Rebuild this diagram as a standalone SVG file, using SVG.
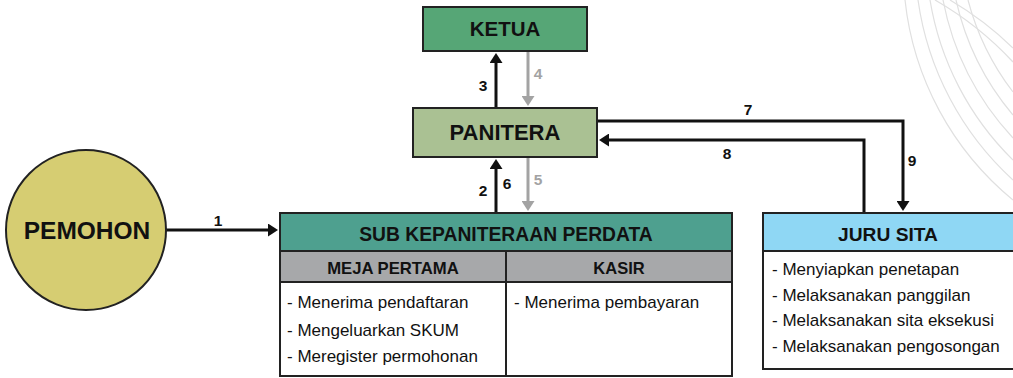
<svg xmlns="http://www.w3.org/2000/svg" width="1013" height="378" viewBox="0 0 1013 378">
  <defs>
    <style>
      .box { stroke: #222; stroke-width: 2; }
      .title { font-family: "Liberation Sans", Arial, sans-serif; font-weight: bold; fill: #111; text-anchor: middle; }
      .item { font-family: "Liberation Sans", Arial, sans-serif; font-size: 17px; fill: #111; }
      .num { font-family: "Liberation Sans", Arial, sans-serif; font-weight: bold; font-size: 15.5px; text-anchor: middle; }
      .blk { stroke: #111; stroke-width: 3; fill: none; }
      .gry { stroke: #a3a3a3; stroke-width: 3; fill: none; }
      .deco { stroke: #e0e0e0; stroke-width: 1.2; fill: none; }
    </style>
    <marker id="headBlack" viewBox="0 0 10 13" markerUnits="userSpaceOnUse" markerWidth="10" markerHeight="13" refX="1" refY="6.5" orient="auto">
      <path d="M0,0 L10,6.5 L0,13 z" fill="#111"/>
    </marker>
    <marker id="headGray" viewBox="0 0 10 13" markerUnits="userSpaceOnUse" markerWidth="10" markerHeight="13" refX="1" refY="6.5" orient="auto">
      <path d="M0,0 L10,6.5 L0,13 z" fill="#a3a3a3"/>
    </marker>
  </defs>

  <rect width="1013" height="378" fill="#ffffff"/>

  <!-- faint decorative arcs, top right corner -->
  <g id="decoration">
    <path class="deco" d="M905,0 A300,300 0 0 0 1013,200"/>
    <path class="deco" d="M918,0 A300,300 0 0 0 1013,180"/>
    <path class="deco" d="M930,0 A290,290 0 0 0 1013,160"/>
    <path class="deco" d="M943,0 A280,280 0 0 0 1013,138"/>
    <path class="deco" d="M956,0 A270,270 0 0 0 1013,115"/>
    <path class="deco" d="M968,0 A260,260 0 0 0 1013,92"/>
    <path class="deco" d="M935,0 A330,330 0 0 1 1013,62"/>
    <path class="deco" d="M950,0 A330,330 0 0 1 1013,48"/>
  </g>

  <!-- connectors -->
  <g id="connectors">
    <!-- 1: pemohon to sub kepaniteraan -->
    <line class="blk" x1="166" y1="230" x2="269" y2="230" marker-end="url(#headBlack)"/>
    <!-- 2/6: sub kepaniteraan up to panitera -->
    <line class="blk" x1="496" y1="213" x2="496" y2="168" marker-end="url(#headBlack)"/>
    <!-- 5: panitera down to sub kepaniteraan -->
    <line class="gry" x1="528" y1="157" x2="528" y2="202" marker-end="url(#headGray)"/>
    <!-- 3: panitera up to ketua -->
    <line class="blk" x1="496" y1="108" x2="496" y2="62" marker-end="url(#headBlack)"/>
    <!-- 4: ketua down to panitera -->
    <line class="gry" x1="528" y1="51" x2="528" y2="97" marker-end="url(#headGray)"/>
    <!-- 7 / 9: panitera to juru sita -->
    <polyline class="blk" points="597,121 903,121 903,202" marker-end="url(#headBlack)"/>
    <!-- 8: juru sita back to panitera -->
    <polyline class="blk" points="864,213 864,140 608,140" marker-end="url(#headBlack)"/>

    <text class="num" x="218" y="226" fill="#111">1</text>
    <text class="num" x="483" y="196" fill="#111">2</text>
    <text class="num" x="507" y="189" fill="#111">6</text>
    <text class="num" x="538" y="185" fill="#a3a3a3">5</text>
    <text class="num" x="483" y="91" fill="#111">3</text>
    <text class="num" x="538" y="79" fill="#a3a3a3">4</text>
    <text class="num" x="748" y="115" fill="#111">7</text>
    <text class="num" x="727" y="159" fill="#111">8</text>
    <text class="num" x="912" y="166" fill="#111">9</text>
  </g>

  <!-- ketua -->
  <g id="ketua">
    <rect class="box" x="423" y="7" width="164" height="44" fill="#56a676"/>
    <text class="title" x="505" y="36" font-size="20.5">KETUA</text>
  </g>

  <!-- panitera -->
  <g id="panitera">
    <rect class="box" x="413" y="108" width="184" height="49" fill="#aac193"/>
    <text class="title" x="505" y="140" font-size="22">PANITERA</text>
  </g>

  <!-- pemohon -->
  <g id="pemohon">
    <circle class="box" cx="86" cy="230" r="80" fill="#d6cd72"/>
    <text class="title" x="87" y="239" font-size="24.5">PEMOHON</text>
  </g>

  <!-- sub kepaniteraan perdata -->
  <g id="sub-kepaniteraan">
    <rect x="280" y="213" width="452" height="163" fill="#ffffff"/>
    <rect x="280" y="213" width="452" height="38" fill="#4ea08f"/>
    <rect x="280" y="251" width="452" height="31" fill="#a7a8aa"/>
    <rect class="box" x="280" y="213" width="452" height="163" fill="none"/>
    <line class="box" x1="280" y1="251" x2="732" y2="251"/>
    <line class="box" x1="280" y1="282" x2="732" y2="282"/>
    <line class="box" x1="506" y1="251" x2="506" y2="376"/>
    <text class="title" x="506" y="241" font-size="19.3">SUB KEPANITERAAN PERDATA</text>
    <text class="title" x="393" y="274" font-size="16.7">MEJA PERTAMA</text>
    <text class="title" x="619" y="274" font-size="16.5">KASIR</text>
    <text class="item" x="287" y="308">- Menerima pendaftaran</text>
    <text class="item" x="287" y="336">- Mengeluarkan SKUM</text>
    <text class="item" x="287" y="362">- Meregister permohonan</text>
    <text class="item" x="514" y="308">- Menerima pembayaran</text>
  </g>

  <!-- juru sita -->
  <g id="juru-sita">
    <rect class="box" x="763" y="213" width="270" height="156" fill="#ffffff"/>
    <rect class="box" x="763" y="213" width="270" height="38" fill="#8fd7f4"/>
    <text class="title" x="888" y="241" font-size="19.2">JURU SITA</text>
    <text class="item" x="772" y="275">- Menyiapkan penetapan</text>
    <text class="item" x="772" y="301">- Melaksanakan panggilan</text>
    <text class="item" x="772" y="326">- Melaksanakan sita eksekusi</text>
    <text class="item" x="772" y="352">- Melaksanakan pengosongan</text>
  </g>
</svg>
